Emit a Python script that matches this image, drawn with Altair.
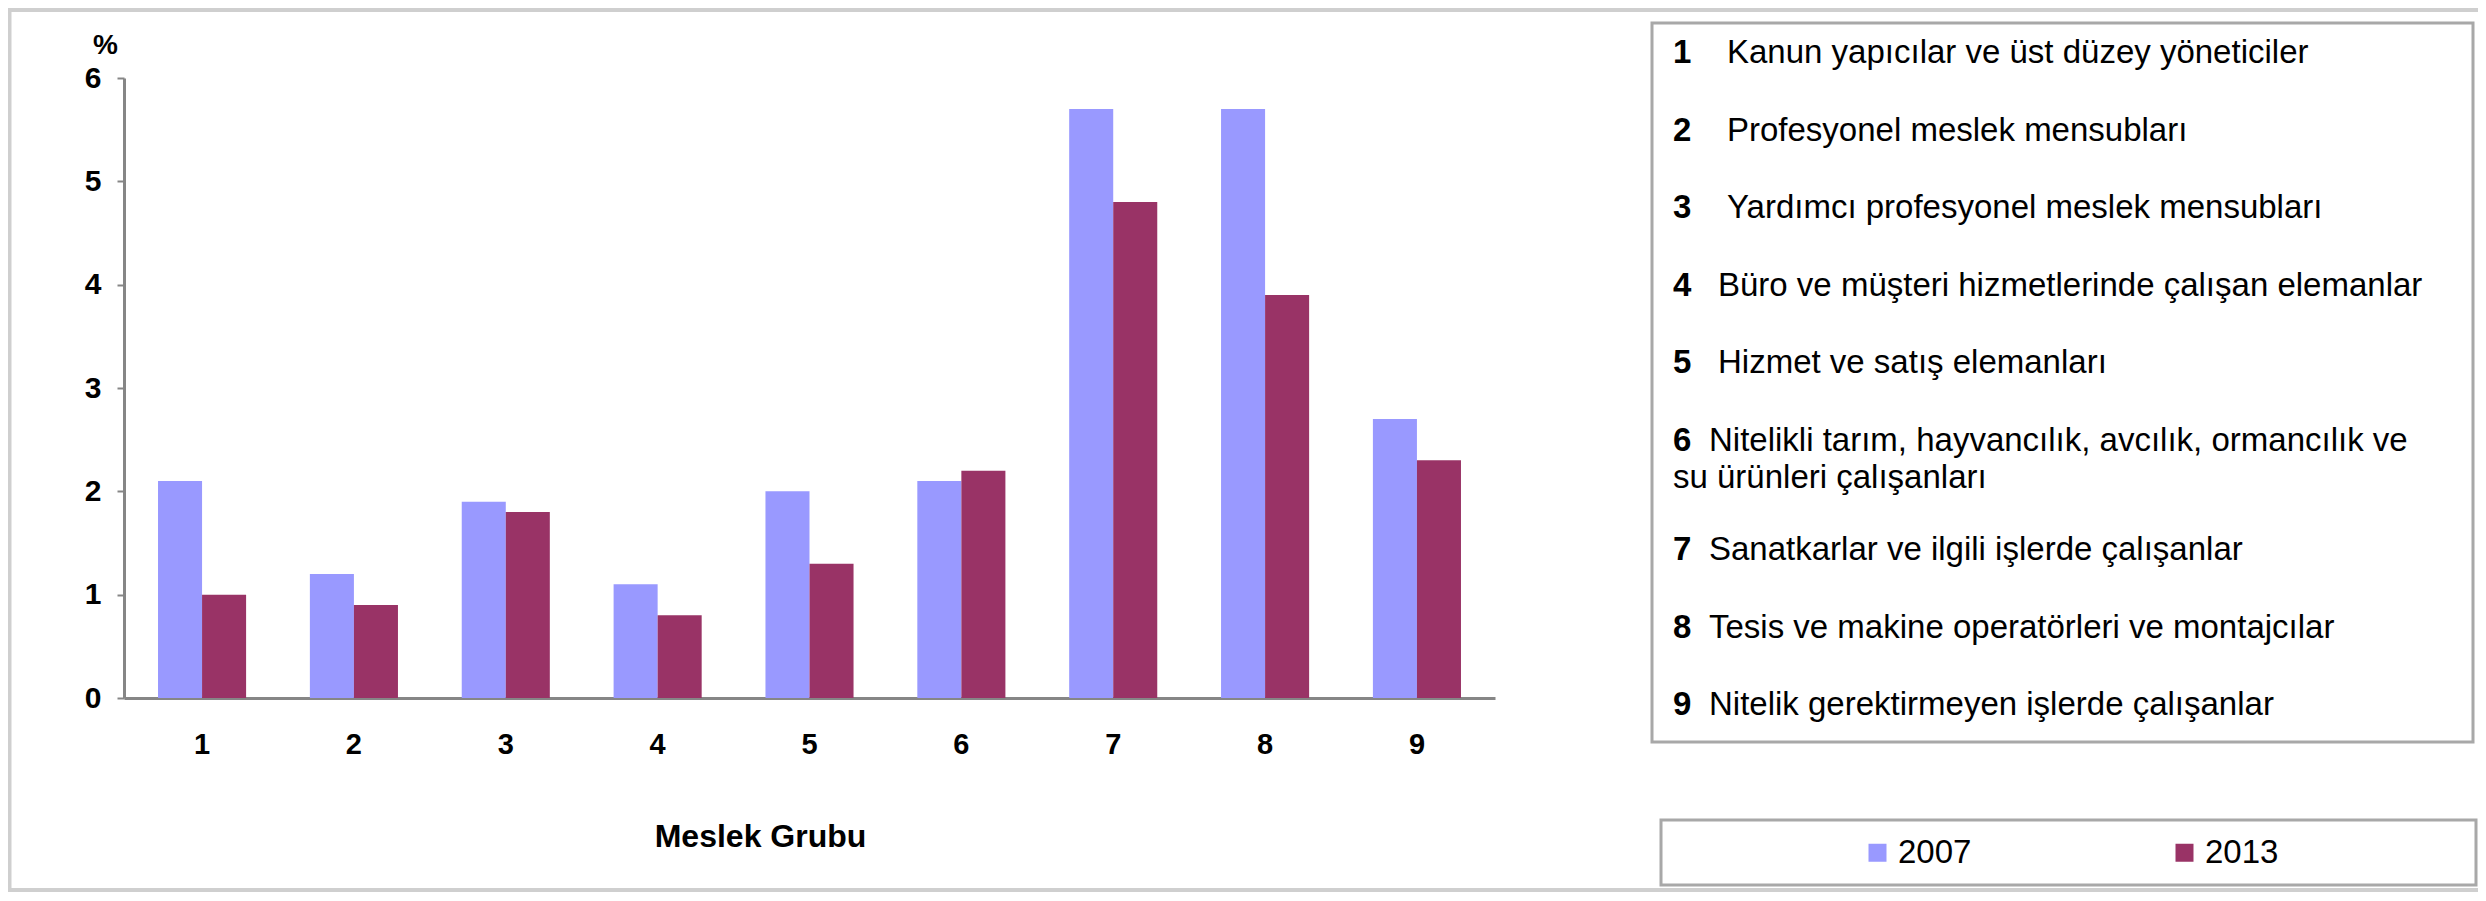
import altair as alt
import pandas as pd

# ---------------- data ----------------
groups = ["1", "2", "3", "4", "5", "6", "7", "8", "9"]
values_2007 = [2.1, 1.2, 1.9, 1.1, 2.0, 2.1, 5.7, 5.7, 2.7]
values_2013 = [1.0, 0.9, 1.8, 0.8, 1.3, 2.2, 4.8, 3.9, 2.3]
years = ["2007", "2013"]
year_colors = ["#9999FF", "#993366"]
y_ticks = [0, 1, 2, 3, 4, 5, 6]

occupation_codes = ["1", "2", "3", "4", "5", "6", "7", "8", "9"]
occupation_names = [
    "Kanun yapıcılar ve üst düzey yöneticiler",
    "Profesyonel meslek mensubları",
    "Yardımcı profesyonel meslek mensubları",
    "Büro ve müşteri hizmetlerinde çalışan elemanlar",
    "Hizmet ve satış elemanları",
    "Nitelikli tarım, hayvancılık, avcılık, ormancılık ve\nsu ürünleri çalışanları",
    "Sanatkarlar ve ilgili işlerde çalışanlar",
    "Tesis ve makine operatörleri ve montajcılar",
    "Nitelik gerektirmeyen işlerde çalışanlar",
]

x_title = "Meslek Grubu"
y_title = "%"

FONT = "Liberation Sans"

# ---------------- tables ----------------
bars = pd.DataFrame(
    [{"grup": g, "yil": years[0], "deger": v} for g, v in zip(groups, values_2007)]
    + [{"grup": g, "yil": years[1], "deger": v} for g, v in zip(groups, values_2013)]
)

# legend-list rows (layout computed here from the row index)
ROW0 = -25.0      # centre of first row, relative to plot top
ROWSTEP = 77.5
LINESTEP = 37.0
NUM_X = 1549
num_rows, txt_rows = [], []
for i, (code, name) in enumerate(zip(occupation_codes, occupation_names)):
    y = ROW0 + ROWSTEP * i + (32 if i > 5 else 0)
    num_rows.append({"t": code, "px": NUM_X, "py": y})
    tx = NUM_X + (54 if i < 3 else 45 if i < 5 else 36)
    for k, line in enumerate(name.split("\n")):
        txt_rows.append({"t": line, "px": tx if k == 0 else NUM_X, "py": y + k * LINESTEP})
num_df = pd.DataFrame(num_rows)
txt_df = pd.DataFrame(txt_rows)

one = pd.DataFrame({"a": [0]})

# ---------------- bar layer ----------------
bar_layer = alt.Chart(bars).mark_bar().encode(
    x=alt.X(
        "grup:N",
        sort=groups,
        scale=alt.Scale(paddingInner=0.42, paddingOuter=0.224),
        axis=alt.Axis(
            title=x_title,
            labelAngle=0,
            labelFont=FONT,
            labelFontSize=29,
            labelFontWeight="bold",
            labelColor="#000000",
            labelPadding=32,
            ticks=False,
            domainColor="#868686",
            domainWidth=3,
            titleFont=FONT,
            titleFontSize=32,
            titleFontWeight="bold",
            titleColor="#000000",
            titleX=636,
            titleY=138,
            titleBaseline="middle",
            titleAlign="center",
        ),
    ),
    xOffset=alt.XOffset("yil:N", sort=years),
    y=alt.Y(
        "deger:Q",
        scale=alt.Scale(domain=[0, 6], nice=False),
        axis=alt.Axis(
            values=y_ticks,
            title=y_title,
            titleAngle=0,
            titleX=-19,
            titleY=-33,
            titleAlign="center",
            titleBaseline="middle",
            titleFont=FONT,
            titleFontSize=28,
            titleFontWeight="bold",
            titleColor="#000000",
            labelFont=FONT,
            labelFontSize=30,
            labelFontWeight="bold",
            labelColor="#000000",
            labelPadding=16,
            tickSize=7,
            tickWidth=2,
            tickColor="#868686",
            domainColor="#868686",
            domainWidth=3,
            grid=False,
        ),
    ),
    color=alt.Color(
        "yil:N",
        sort=years,
        scale=alt.Scale(domain=years, range=year_colors),
        legend=alt.Legend(
            title=None,
            orient="none",
            direction="horizontal",
            legendX=1737,
            legendY=758,
            symbolType="square",
            symbolSize=324,
            symbolStrokeWidth=0,
            symbolOpacity=1,
            labelFont=FONT,
            labelFontSize=33,
            labelColor="#000000",
            labelOffset=4,
            columnPadding=196,
            padding=0,
        ),
    ),
)

# ---------------- frames ----------------
outer = alt.Chart(one).mark_rect(fill="white", fillOpacity=0, stroke="#cfcfcf", strokeWidth=4).encode(
    x=alt.value(-114.5), x2=alt.value(2500), y=alt.value(-68), y2=alt.value(812)
)
box1 = alt.Chart(one).mark_rect(fill="white", fillOpacity=0, stroke="#a8a8a8", strokeWidth=3).encode(
    x=alt.value(1528), x2=alt.value(2349), y=alt.value(-55), y2=alt.value(664)
)
box2 = alt.Chart(one).mark_rect(fill="white", fillOpacity=0, stroke="#a8a8a8", strokeWidth=3).encode(
    x=alt.value(1537), x2=alt.value(2352), y=alt.value(742), y2=alt.value(807)
)

# ---------------- legend list text ----------------
num_layer = alt.Chart(num_df).mark_text(
    align="left", baseline="middle", font=FONT, fontSize=33, fontWeight="bold", color="#000000"
).encode(
    x=alt.X("px:Q", scale=None, axis=None),
    y=alt.Y("py:Q", scale=None, axis=None),
    text="t:N",
)
txt_layer = alt.Chart(txt_df).mark_text(
    align="left", baseline="middle", font=FONT, fontSize=33, color="#000000"
).encode(
    x=alt.X("px:Q", scale=None, axis=None),
    y=alt.Y("py:Q", scale=None, axis=None),
    text="t:N",
)

chart = (
    alt.layer(outer, box1, box2, bar_layer, num_layer, txt_layer)
    .properties(
        width=1371,
        height=620,
        autosize=alt.AutoSizeParams(type="none"),
        padding={"left": 116, "top": 70, "right": 983, "bottom": 195},
        background="white",
    )
    .configure_view(stroke=None)
)

chart.save("out.html", embed_options={"renderer": "svg", "actions": False})
